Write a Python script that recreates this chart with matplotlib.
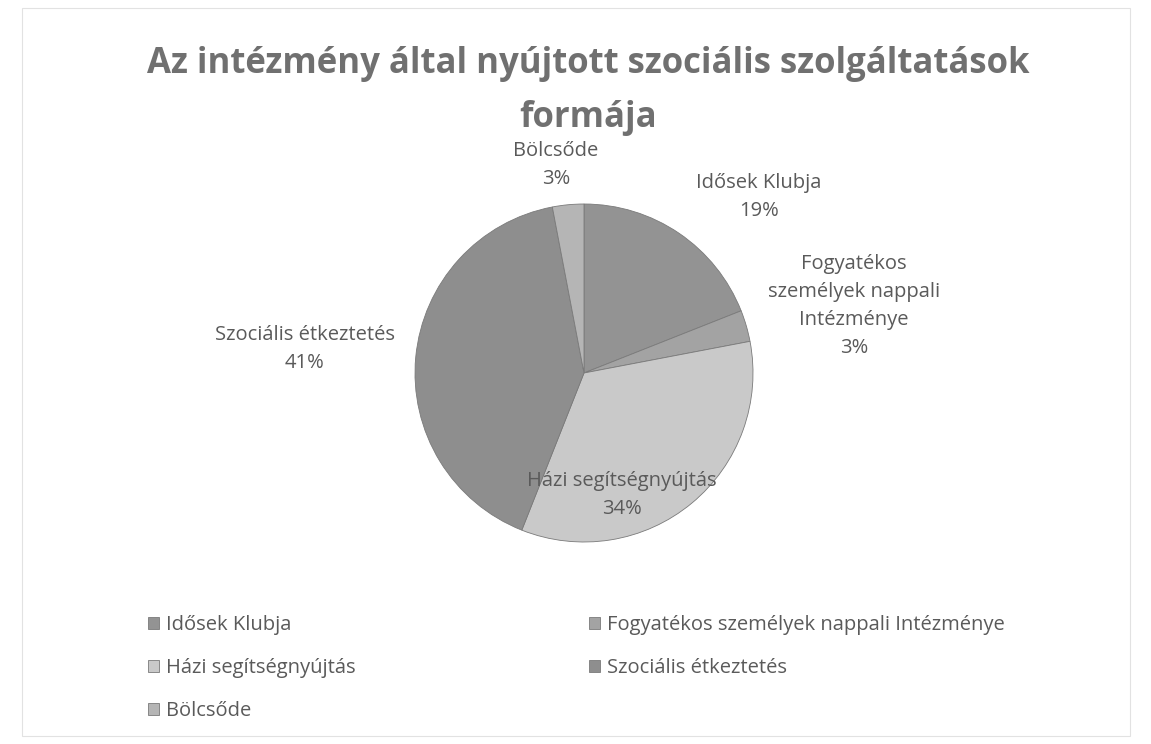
import numpy as np
import matplotlib.pyplot as plt
from matplotlib.patches import Rectangle

plt.rcParams['font.family'] = ['Open Sans', 'DejaVu Sans']

# data (clockwise from 12 o'clock)
categories = ['Idősek Klubja', 'Fogyatékos személyek nappali Intézménye',
              'Házi segítségnyújtás', 'Szociális étkeztetés', 'Bölcsőde']
chart_labels = ['Idősek Klubja', 'Fogyatékos\nszemélyek nappali\nIntézménye',
                'Házi segítségnyújtás', 'Szociális étkeztetés', 'Bölcsőde']
shares = [19, 3, 34, 41, 3]
colors = ['#939393', '#a3a3a3', '#c9c9c9', '#8e8e8e', '#b5b5b5']

# label anchor points (pie radius = 1)
label_pos = [(1.036, 1.041), (1.598, 0.396), (0.225, -0.722), (-1.651, 0.142), (-0.166, 1.231)]

W, H = 1151, 744
fig = plt.figure(figsize=(W / 100, H / 100), dpi=100)

# faint chart frame
fig.add_artist(Rectangle((22 / W, 8 / H), 1108 / W, 728 / H, transform=fig.transFigure,
                         fill=False, edgecolor='#e2e2e2', linewidth=0.8))

cx, cy, r = 584, 373, 169
ax = fig.add_axes([(cx - r) / W, (H - cy - r) / H, 2 * r / W, 2 * r / H])
wedges, _ = ax.pie(shares, colors=colors, startangle=90, counterclock=False, radius=1,
                   wedgeprops=dict(edgecolor='#7a7a7a', linewidth=0.6))
ax.set_xlim(-1, 1)
ax.set_ylim(-1, 1)
ax.set_aspect('equal')
ax.axis('off')

for lab, val, (x, y) in zip(chart_labels, shares, label_pos):
    ax.text(x, y, f'{lab}\n{val}%', ha='center', va='center', fontsize=14.5,
            color='#5a5a5a', linespacing=1.55, clip_on=False)

fig.text(588 / W, (H - 73) / H, 'Az intézmény által nyújtott szociális szolgáltatások',
         ha='center', va='baseline', fontsize=25, fontweight='bold', color='#707070')
fig.text(588 / W, (H - 127) / H, 'formája',
         ha='center', va='baseline', fontsize=25, fontweight='bold', color='#707070')

order = [0, 2, 4, 1, 3]
leg = fig.legend([wedges[i] for i in order], [categories[i] for i in order],
                 loc='upper left', bbox_to_anchor=(148 / W, (H - 615) / H), ncol=2,
                 frameon=False, fontsize=14.5, handlelength=0.55, handleheight=0.55,
                 handletextpad=0.35, columnspacing=11.6, labelspacing=1.15,
                 borderpad=0, borderaxespad=0, labelcolor='#5a5a5a')

fig.savefig('out.png', dpi=100, facecolor='white')
